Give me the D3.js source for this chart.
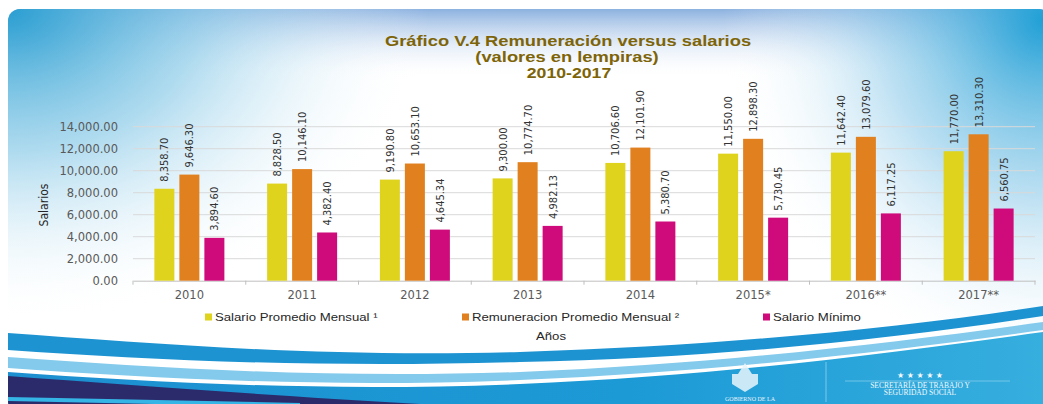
<!DOCTYPE html>
<html>
<head>
<meta charset="utf-8">
<script src="https://cdn.jsdelivr.net/npm/d3@7"></script>
<style>
  body { margin: 0; background: #fff; }
  svg { display: block; }
</style>
</head>
<body>
<div id="chart"></div>
<script>
// chart values
const years = ["2010", "2011", "2012", "2013", "2014", "2015*", "2016**", "2017**"];
const salarioPromedio = [8358.70, 8828.50, 9190.80, 9300.00, 10706.60, 11550.00, 11642.40, 11770.00];
const remuneracion = [9646.30, 10146.10, 10653.10, 10774.70, 12101.90, 12898.30, 13079.60, 13310.30];
const salarioMinimo = [3894.60, 4382.40, 4645.34, 4982.13, 5380.70, 5730.45, 6117.25, 6560.75];
const seriesNames = ["Salario Promedio Mensual \u00b9", "Remuneracion Promedio Mensual \u00b2", "Salario M\u00ednimo"];
const yTicks = [0, 2000, 4000, 6000, 8000, 10000, 12000, 14000];

const W = 1043, H = 404;
const colors = ["#dfd31d", "#e0801f", "#cf0a7a"];
const narrow = "'DejaVu Sans Condensed', 'Liberation Sans Narrow', sans-serif";
const sans = "'Liberation Sans', Arial, sans-serif";

const svg = d3.select("#chart").append("svg")
  .attr("width", W)
  .attr("height", H);

const defs = svg.append("defs");

// background gradients
const gTL = defs.append("radialGradient").attr("id", "gTL")
  .attr("gradientUnits", "userSpaceOnUse")
  .attr("cx", 10).attr("cy", 10).attr("r", 420)
  .attr("gradientTransform", "translate(10,10) scale(1,0.75) translate(-10,-10)");
gTL.append("stop").attr("offset", "0").attr("stop-color", "#2b9fd2").attr("stop-opacity", 1);
gTL.append("stop").attr("offset", "0.45").attr("stop-color", "#8ccbe8").attr("stop-opacity", 0.7);
gTL.append("stop").attr("offset", "1").attr("stop-color", "#ffffff").attr("stop-opacity", 0);

const gTR = defs.append("radialGradient").attr("id", "gTR")
  .attr("gradientUnits", "userSpaceOnUse")
  .attr("cx", 1043).attr("cy", 20).attr("r", 320)
  .attr("gradientTransform", "translate(1043,20) scale(1,1.1) translate(-1043,-20)");
gTR.append("stop").attr("offset", "0").attr("stop-color", "#21a0d6").attr("stop-opacity", 1);
gTR.append("stop").attr("offset", "0.5").attr("stop-color", "#8fcbea").attr("stop-opacity", 0.6);
gTR.append("stop").attr("offset", "1").attr("stop-color", "#ffffff").attr("stop-opacity", 0);

const gTop = defs.append("linearGradient").attr("id", "gTop")
  .attr("x1", 0).attr("y1", 0).attr("x2", 0).attr("y2", 1);
gTop.append("stop").attr("offset", "0").attr("stop-color", "#7fa9dc").attr("stop-opacity", 0.9);
gTop.append("stop").attr("offset", "1").attr("stop-color", "#ffffff").attr("stop-opacity", 0);

const gBot = defs.append("linearGradient").attr("id", "gBot")
  .attr("x1", 0).attr("y1", 0).attr("x2", 1).attr("y2", 0);
gBot.append("stop").attr("offset", "0").attr("stop-color", "#1d8fd0");
gBot.append("stop").attr("offset", "0.6").attr("stop-color", "#1c9ad6");
gBot.append("stop").attr("offset", "1").attr("stop-color", "#36aede");

defs.append("clipPath").attr("id", "frameClip")
  .append("rect").attr("x", 8).attr("y", 9).attr("width", W).attr("height", H).attr("rx", 12);

const bg = svg.append("g").attr("clip-path", "url(#frameClip)");
bg.append("rect").attr("x", 8).attr("y", 9).attr("width", W).attr("height", H).attr("fill", "#ffffff");
bg.append("rect").attr("x", 8).attr("y", 9).attr("width", W).attr("height", 70).attr("fill", "url(#gTop)");
bg.append("rect").attr("x", 8).attr("y", 9).attr("width", W).attr("height", H).attr("fill", "url(#gTL)");
bg.append("rect").attr("x", 8).attr("y", 9).attr("width", W).attr("height", H).attr("fill", "url(#gTR)");

// bottom swoosh: blue stripe, light stripe, main blue, navy band
bg.append("path")
  .attr("d", "M8,333 C150,343 320,358 520,352 C720,346 900,328 1043,306 " +
             "L1043,316 C900,338 720,358 520,362 C320,368 150,360 8,350 Z")
  .attr("fill", "#1e93d2");
bg.append("path")
  .attr("d", "M8,357 C150,367 320,379 520,372 C720,364 900,342 1043,322 " +
             "L1043,330 C900,350 720,372 520,380 C320,388 150,378 8,368 Z")
  .attr("fill", "#84caec");
bg.append("path")
  .attr("d", "M8,372 C150,382 320,392 520,384 C720,376 900,352 1043,332 L1043,404 L8,404 Z")
  .attr("fill", "url(#gBot)");
bg.append("path")
  .attr("d", "M8,376 C130,385 260,395 420,404 L8,404 Z")
  .attr("fill", "#2b2b6c");
bg.append("path")
  .attr("d", "M8,399 C100,401 200,403 300,405")
  .attr("fill", "none").attr("stroke", "#35b5e5").attr("stroke-width", 4);

// logo area (decorative)
const logo = svg.append("g");
logo.append("path")
  .attr("d", "M745,363 L752,374 L758,374 L758,384 L745,392 L732,384 L732,374 L738,374 Z")
  .attr("fill", "#e8f4fa").attr("opacity", 0.85);
logo.append("text").attr("x", 750).attr("y", 401)
  .attr("text-anchor", "middle")
  .style("font-family", "'Liberation Serif', serif").style("font-size", "6px")
  .attr("fill", "#e6f3fa").text("GOBIERNO DE LA");
logo.append("line").attr("x1", 826).attr("x2", 826).attr("y1", 362).attr("y2", 402)
  .attr("stroke", "#7cc7ea").attr("stroke-width", 1);
logo.append("line").attr("x1", 845).attr("x2", 1010).attr("y1", 381).attr("y2", 381)
  .attr("stroke", "#8fd2ee").attr("stroke-width", 0.7);
logo.append("text").attr("x", 920).attr("y", 378)
  .attr("text-anchor", "middle")
  .style("font-family", "'DejaVu Sans', sans-serif").style("font-size", "8px")
  .attr("fill", "#f2f9fc").text("\u2605  \u2605  \u2605  \u2605  \u2605");
logo.append("text").attr("x", 920).attr("y", 388)
  .attr("text-anchor", "middle")
  .style("font-family", "'Liberation Serif', serif").style("font-size", "7.5px")
  .attr("fill", "#f2f9fc").text("SECRETAR\u00cdA DE TRABAJO Y");
logo.append("text").attr("x", 920).attr("y", 395)
  .attr("text-anchor", "middle")
  .style("font-family", "'Liberation Serif', serif").style("font-size", "7.5px")
  .attr("fill", "#f2f9fc").text("SEGURIDAD SOCIAL");

// text that is stretched sideways, like the reference
function wideText(parent, x, y, str, size, opts) {
  const g = parent.append("g").attr("transform", `translate(${x},${y}) scale(${opts.sx || 1.2},1)`);
  return g.append("text")
    .attr("text-anchor", opts.anchor || "start")
    .style("font-family", sans)
    .style("font-size", size + "px")
    .style("font-weight", opts.weight || "normal")
    .attr("fill", opts.fill || "#333")
    .text(str);
}

// title
const titleColor = "#7e6408";
wideText(svg, 568, 46, "Gr\u00e1fico V.4  Remuneraci\u00f3n versus salarios", 13.8, { anchor: "middle", weight: "bold", fill: titleColor, sx: 1.33 });
wideText(svg, 567, 62, "(valores en lempiras)", 13.8, { anchor: "middle", weight: "bold", fill: titleColor, sx: 1.33 });
wideText(svg, 569, 78, "2010-2017", 13.8, { anchor: "middle", weight: "bold", fill: titleColor, sx: 1.28 });

// plot
const plotLeft = 133, plotRight = 1035, plotTop = 126.7, plotBottom = 280.7;

const x0 = d3.scaleBand().domain(years).range([plotLeft, plotRight]).padding(0);
const x1 = d3.scaleBand().domain([0, 1, 2]).range([0, x0.bandwidth()])
  .paddingInner(0.2).paddingOuter(0.855);
const y = d3.scaleLinear().domain([0, 14000]).range([plotBottom, plotTop]);

// gridlines
svg.append("g").selectAll("line")
  .data(yTicks.filter(d => d > 0))
  .join("line")
  .attr("x1", plotLeft).attr("x2", plotRight)
  .attr("y1", d => y(d)).attr("y2", d => y(d))
  .attr("stroke", "#d9d9d9").attr("stroke-width", 1);

// y axis labels
const yAxis = svg.append("g")
  .attr("transform", `translate(${plotLeft - 15},0)`)
  .call(d3.axisLeft(y).tickValues(yTicks).tickFormat(d3.format(",.2f")).tickSize(0).tickPadding(0));
yAxis.select(".domain").remove();
yAxis.selectAll("text")
  .style("font-family", "'DejaVu Sans', sans-serif")
  .style("font-size", "11.5px")
  .attr("fill", "#595959");

// x axis
const xAxis = svg.append("g")
  .attr("transform", `translate(0,${plotBottom})`)
  .call(d3.axisBottom(x0).tickSize(0).tickPadding(10));
xAxis.select(".domain").attr("stroke", "#bfbfbf");
xAxis.selectAll("text")
  .style("font-family", "'DejaVu Sans', sans-serif")
  .style("font-size", "11.5px")
  .attr("fill", "#595959");
xAxis.selectAll(".sep")
  .data(years.map(d => x0(d)).concat([plotRight]))
  .join("line")
  .attr("class", "sep")
  .attr("x1", d => d).attr("x2", d => d)
  .attr("y1", 0).attr("y2", 4)
  .attr("stroke", "#bfbfbf");

// y axis title
svg.append("text")
  .attr("transform", "translate(48,205) rotate(-90)")
  .attr("text-anchor", "middle")
  .style("font-family", narrow)
  .style("font-size", "12px")
  .attr("fill", "#262626")
  .text("Salarios");

// bars
const series = [salarioPromedio, remuneracion, salarioMinimo];
const rows = [];
years.forEach((yr, i) => {
  series.forEach((s, k) => rows.push({ year: yr, k: k, value: s[i] }));
});

const bars = svg.append("g");
bars.selectAll("rect")
  .data(rows)
  .join("rect")
  .attr("x", d => x0(d.year) + x1(d.k))
  .attr("y", d => y(d.value))
  .attr("width", x1.bandwidth())
  .attr("height", d => y(0) - y(d.value))
  .attr("fill", d => colors[d.k]);

// value labels
bars.selectAll("text")
  .data(rows)
  .join("text")
  .attr("transform", d => `translate(${x0(d.year) + x1(d.k) + x1.bandwidth() / 2},${y(d.value) - 7}) rotate(-90)`)
  .attr("dy", "0.36em")
  .attr("text-anchor", "start")
  .style("font-family", narrow)
  .style("font-size", "11px")
  .attr("fill", "#333")
  .text(d => d3.format(",.2f")(d.value));

// legend
const legendX = [205, 462, 763];
const legend = svg.append("g");
seriesNames.forEach((name, k) => {
  legend.append("rect")
    .attr("x", legendX[k]).attr("y", 313.5)
    .attr("width", 7).attr("height", 7)
    .attr("fill", colors[k]);
  wideText(legend, legendX[k] + 10, 321, name, 11, { fill: "#262626" });
});

wideText(svg, 551, 340, "A\u00f1os", 11, { anchor: "middle", fill: "#262626" });
</script>
</body>
</html>
